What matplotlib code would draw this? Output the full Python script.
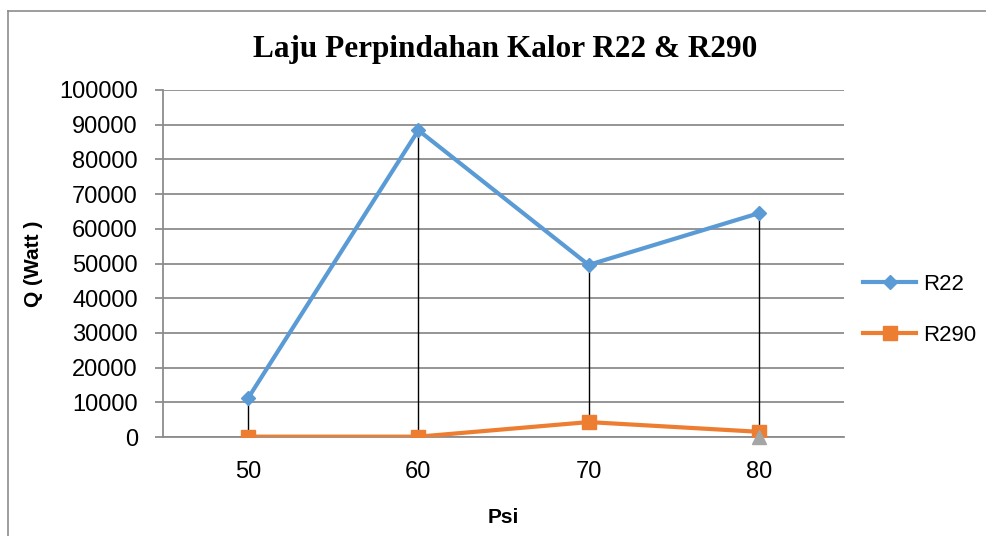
import numpy as np
import matplotlib
matplotlib.use("Agg")
import matplotlib.pyplot as plt
from matplotlib.lines import Line2D

# data
psi = ["50", "60", "70", "80"]
r22 = [11200, 88400, 49600, 64500]
r290 = [100, 100, 4300, 1500]
extra = [np.nan, np.nan, np.nan, 0]   # grey triangle at 80, not in legend
yticks = [0, 10000, 20000, 30000, 40000, 50000, 60000, 70000, 80000, 90000, 100000]

plt.rcParams['font.family'] = ['Liberation Sans', 'DejaVu Sans']

fig = plt.figure(figsize=(9.87, 5.36), dpi=100)
ax = fig.add_axes([163/987, 1 - 437/536, (844 - 163)/987, (437 - 90)/536])

x = np.arange(len(psi))

# drop lines, from the top value down to the lowest at each category
allv = np.array([r22, r290, [v if not np.isnan(v) else np.inf for v in extra]], dtype=float)
lo = np.min(allv, axis=0)
hi = np.max(np.array([r22, r290]), axis=0)
ax.vlines(x, lo, hi, color='black', lw=1.0, zorder=2)

ax.plot(x, r22, color='#5B9BD5', lw=3, marker='D', ms=7.5, label='R22', zorder=4)
ax.plot(x, r290, color='#ED7D31', lw=3, marker='s', ms=10, label='R290', zorder=4)
ax.plot(x, extra, color='#A5A5A5', lw=0, marker='^', ms=10, zorder=5, clip_on=False)

ax.set_xlim(-0.5, len(psi) - 0.5)
ax.set_ylim(0, 100000)
ax.set_yticks(yticks)
ax.set_xticks(x)
ax.set_xticklabels(psi)
ax.yaxis.grid(True, color='#8C8C8C', lw=1.3)
ax.set_axisbelow(True)

for s in ['top', 'right']:
    ax.spines[s].set_visible(False)
ax.spines['left'].set_color('#8C8C8C')
ax.spines['bottom'].set_color('#8C8C8C')
ax.spines['left'].set_linewidth(1.3)
ax.spines['bottom'].set_linewidth(1.3)
ax.tick_params(axis='y', length=6, color='#8C8C8C', width=1.3, labelsize=17, pad=12)
ax.tick_params(axis='x', length=0, labelsize=17, pad=17)

ax.set_xlabel('Psi', fontsize=15, fontweight='bold', labelpad=18)
ax.set_ylabel('Q (Watt )', fontsize=15, fontweight='bold', labelpad=12)

fig.text(505/987, 1 - 50/536, 'Laju Perpindahan Kalor R22 & R290', ha='center', va='center',
         fontsize=22.5, fontweight='bold', family=['Liberation Serif', 'DejaVu Serif'])

fig.legend(loc='center left', bbox_to_anchor=(843/987, 1 - 310/536), frameon=False,
           fontsize=16, handlelength=2.4, labelspacing=1.35, handletextpad=0.3)

# chart border (only top and left fall inside the picture)
fig.add_artist(Line2D([8/987, 1.0], [1 - 11/536, 1 - 11/536], transform=fig.transFigure,
                      color='#8C8C8C', lw=1.2))
fig.add_artist(Line2D([8/987, 8/987], [0.0, 1 - 11/536], transform=fig.transFigure,
                      color='#8C8C8C', lw=1.2))

fig.savefig('out.png', dpi=100)
